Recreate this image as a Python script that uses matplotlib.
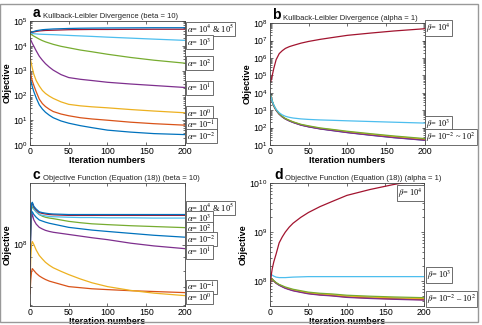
import numpy as np
import matplotlib
matplotlib.use("Agg")
import matplotlib.pyplot as plt
from matplotlib.patches import Rectangle
from matplotlib.ticker import NullFormatter, LogLocator

plt.rcParams['font.family'] = ['Liberation Sans', 'DejaVu Sans']
plt.rcParams['mathtext.fontset'] = 'stix'

its = [0, 1, 2, 3, 5, 8, 12, 16, 20, 25, 30, 40, 50, 65, 80, 100, 130, 160, 200]

# values are stored as log10(objective)
# panel a: KL divergence, beta = 10
a_m2 = [2.80, 2.62, 2.48, 2.35, 2.15, 1.90, 1.62, 1.45, 1.32, 1.20, 1.10, 0.97, 0.88, 0.78, 0.70, 0.60, 0.52, 0.46, 0.42]
a_m1 = [3.00, 2.85, 2.70, 2.58, 2.40, 2.15, 1.85, 1.67, 1.55, 1.44, 1.35, 1.25, 1.18, 1.10, 1.05, 1.00, 0.92, 0.86, 0.80]
a_0 = [3.55, 3.40, 3.25, 3.10, 2.85, 2.60, 2.38, 2.20, 2.08, 1.97, 1.88, 1.74, 1.64, 1.58, 1.54, 1.50, 1.43, 1.37, 1.30]
a_1 = [4.30, 4.24, 4.17, 4.10, 3.98, 3.80, 3.58, 3.42, 3.28, 3.14, 3.02, 2.84, 2.72, 2.65, 2.60, 2.53, 2.46, 2.40, 2.32]
a_2 = [4.50, 4.47, 4.45, 4.43, 4.39, 4.34, 4.27, 4.21, 4.16, 4.11, 4.06, 3.98, 3.92, 3.83, 3.76, 3.66, 3.53, 3.42, 3.30]
a_3 = [4.52, 4.52, 4.51, 4.50, 4.49, 4.48, 4.47, 4.465, 4.46, 4.455, 4.45, 4.435, 4.42, 4.40, 4.38, 4.35, 4.31, 4.27, 4.22]
a_4 = [4.52, 4.53, 4.54, 4.55, 4.56, 4.58, 4.60, 4.61, 4.62, 4.625, 4.63, 4.64, 4.65, 4.655, 4.66, 4.66, 4.665, 4.67, 4.67]
a_5 = [4.52, 4.54, 4.55, 4.56, 4.58, 4.61, 4.63, 4.65, 4.66, 4.67, 4.68, 4.69, 4.70, 4.71, 4.715, 4.72, 4.725, 4.73, 4.73]

# panel b: KL divergence, alpha = 1
b_m2 = [3.95, 3.80, 3.65, 3.50, 3.25, 3.00, 2.78, 2.62, 2.50, 2.39, 2.30, 2.15, 2.05, 1.93, 1.84, 1.72, 1.57, 1.43, 1.28]
b_m1 = [3.95, 3.80, 3.65, 3.50, 3.25, 3.00, 2.78, 2.62, 2.50, 2.40, 2.31, 2.16, 2.06, 1.94, 1.86, 1.74, 1.59, 1.46, 1.31]
b_0 = [3.96, 3.81, 3.66, 3.51, 3.26, 3.01, 2.79, 2.63, 2.51, 2.41, 2.32, 2.17, 2.08, 1.96, 1.88, 1.76, 1.62, 1.49, 1.34]
b_1 = [3.94, 3.79, 3.64, 3.49, 3.24, 2.99, 2.77, 2.61, 2.49, 2.38, 2.29, 2.14, 2.04, 1.92, 1.83, 1.71, 1.56, 1.42, 1.27]
b_2 = [3.97, 3.82, 3.67, 3.52, 3.27, 3.02, 2.80, 2.64, 2.52, 2.42, 2.33, 2.19, 2.10, 1.98, 1.90, 1.79, 1.65, 1.52, 1.37]
b_3 = [3.95, 3.80, 3.65, 3.52, 3.30, 3.05, 2.85, 2.73, 2.65, 2.59, 2.55, 2.50, 2.47, 2.44, 2.42, 2.39, 2.35, 2.31, 2.26]
b_4 = [4.60, 4.65, 4.80, 5.00, 5.40, 5.90, 6.25, 6.42, 6.55, 6.65, 6.72, 6.85, 6.95, 7.07, 7.17, 7.30, 7.43, 7.55, 7.68]

# panel c: objective function (18), beta = 10
c_m2 = [7.90, 8.06, 8.11, 8.120, 8.110, 8.100, 8.090, 8.086, 8.082, 8.078, 8.075, 8.069, 8.063, 8.058, 8.053, 8.048, 8.041, 8.034, 8.027]
c_m1 = [7.82, 7.87, 7.90, 7.912, 7.905, 7.895, 7.885, 7.878, 7.872, 7.866, 7.862, 7.854, 7.846, 7.842, 7.838, 7.835, 7.831, 7.828, 7.824]
c_0 = [7.85, 7.95, 8.00, 8.011, 8.000, 7.980, 7.960, 7.947, 7.935, 7.924, 7.915, 7.902, 7.890, 7.874, 7.860, 7.846, 7.832, 7.822, 7.813]
c_1 = [7.90, 8.05, 8.10, 8.110, 8.090, 8.075, 8.063, 8.057, 8.052, 8.048, 8.045, 8.041, 8.037, 8.031, 8.025, 8.018, 8.005, 7.995, 7.985]
c_2 = [7.95, 8.08, 8.13, 8.139, 8.130, 8.120, 8.110, 8.104, 8.100, 8.097, 8.095, 8.090, 8.085, 8.080, 8.076, 8.073, 8.069, 8.066, 8.062]
c_3 = [7.95, 8.10, 8.15, 8.150, 8.130, 8.120, 8.110, 8.107, 8.105, 8.103, 8.102, 8.101, 8.100, 8.099, 8.099, 8.098, 8.098, 8.097, 8.097]
c_4 = [7.95, 8.10, 8.15, 8.152, 8.137, 8.127, 8.117, 8.114, 8.112, 8.110, 8.109, 8.108, 8.107, 8.107, 8.107, 8.107, 8.107, 8.107, 8.107]
c_5 = [7.95, 8.10, 8.15, 8.155, 8.140, 8.130, 8.120, 8.117, 8.115, 8.113, 8.112, 8.111, 8.110, 8.110, 8.110, 8.110, 8.110, 8.110, 8.110]

# panel d: objective function (18), alpha = 1
d_m2 = [7.90, 8.02, 8.05, 8.04, 8.00, 7.96, 7.920, 7.890, 7.860, 7.835, 7.810, 7.780, 7.750, 7.725, 7.710, 7.680, 7.660, 7.645, 7.63]
d_m1 = [7.90, 8.02, 8.05, 8.04, 8.00, 7.96, 7.920, 7.890, 7.860, 7.834, 7.808, 7.777, 7.747, 7.720, 7.703, 7.673, 7.652, 7.635, 7.62]
d_0 = [7.90, 8.02, 8.05, 8.04, 8.00, 7.96, 7.925, 7.895, 7.867, 7.843, 7.820, 7.790, 7.760, 7.737, 7.722, 7.693, 7.673, 7.657, 7.64]
d_1 = [7.90, 8.02, 8.05, 8.04, 8.00, 7.955, 7.912, 7.880, 7.850, 7.824, 7.800, 7.768, 7.738, 7.712, 7.696, 7.665, 7.643, 7.627, 7.61]
d_2 = [7.90, 8.02, 8.05, 8.04, 8.01, 7.97, 7.930, 7.905, 7.878, 7.855, 7.832, 7.802, 7.773, 7.750, 7.737, 7.710, 7.690, 7.675, 7.66]
d_3 = [8.05, 8.15, 8.13, 8.12, 8.10, 8.08, 8.07, 8.07, 8.07, 8.075, 8.08, 8.085, 8.09, 8.09, 8.09, 8.09, 8.09, 8.09, 8.09]
d_4 = [7.80, 8.00, 8.15, 8.25, 8.39, 8.55, 8.78, 8.90, 9.00, 9.10, 9.18, 9.30, 9.40, 9.52, 9.62, 9.75, 9.87, 9.97, 10.08]

C = ['#0072BD', '#D95319', '#EDB120', '#7E2F8E', '#77AC30', '#4DBEEE', '#A2142F']

fig = plt.figure(figsize=(4.82, 3.25), dpi=100)
fig.patches.append(Rectangle((0.001, 0.008), 0.99, 0.98, transform=fig.transFigure,
                             fill=False, edgecolor='#999999', linewidth=1.0))

W = 0.3216
axa = fig.add_axes([0.0622, 0.5538, W, 0.3815])
axb = fig.add_axes([0.560, 0.5538, W, 0.375])
axc = fig.add_axes([0.0622, 0.0585, W, 0.378])
axd = fig.add_axes([0.560, 0.0585, 0.3195, 0.378])


def style(ax, letter, title, ylim, lx=0.015):
    ax.set_yscale('log')
    ax.set_xlim(0, 200)
    ax.set_ylim(*ylim)
    ax.set_xticks([0, 50, 100, 150, 200])
    ax.yaxis.set_major_locator(LogLocator(base=10, numticks=30))
    ax.yaxis.set_minor_locator(LogLocator(base=10, subs=np.arange(2, 10), numticks=30))
    ax.yaxis.set_minor_formatter(NullFormatter())
    ax.tick_params(which='both', direction='in', top=True, right=True,
                   labelsize=6.3, pad=1.5, width=0.5, color='#333333')
    ax.tick_params(which='major', length=2.5)
    ax.tick_params(which='minor', length=1.3)
    for s in ax.spines.values():
        s.set_linewidth(0.6)
        s.set_color('#444444')
    ax.set_xlabel('Iteration numbers', fontsize=6.5, fontweight='bold', labelpad=0)
    ax.set_ylabel('Objective', fontsize=6.5, fontweight='bold', labelpad=1)
    ax.text(lx, 1.008, letter, transform=ax.transAxes, fontsize=10,
            fontweight='bold', va='bottom', ha='left')
    ax.text(lx + 0.07, 1.012, title, transform=ax.transAxes, fontsize=5.5,
            va='bottom', ha='left', color='#222222')


def tag(ax, x, ylog, s):
    ax.text(x, 10 ** ylog, s, transform=ax.get_yaxis_transform(),
            fontsize=6.0, family=['Liberation Serif', 'DejaVu Serif'],
            va='center', ha='left', clip_on=False,
            bbox=dict(boxstyle='square,pad=0.12', fc='white', ec='#555555', lw=0.6))


def draw(ax, series, colors):
    for v, c in zip(series, colors):
        ax.plot(its, 10 ** np.array(v), color=c, lw=0.9)


# panel a
draw(axa, [a_m2, a_m1, a_0, a_1, a_2, a_3, a_4, a_5], C + [C[0]])
style(axa, 'a', 'Kullback-Leibler Divergence (beta = 10)', (1, 1e5))
for y, s in zip([4.68, 4.15, 3.31, 2.30, 1.29, 0.81, 0.36],
                [r'$\alpha$= 10$^{4}$ & 10$^{5}$', r'$\alpha$= 10$^{3}$', r'$\alpha$= 10$^{2}$',
                 r'$\alpha$= 10$^{1}$', r'$\alpha$= 10$^{0}$', r'$\alpha$= 10$^{-1}$',
                 r'$\alpha$= 10$^{-2}$']):
    tag(axa, 1.015, y, s)

# panel b
draw(axb, [b_m2, b_m1, b_0, b_1, b_2, b_3, b_4], C)
style(axb, 'b', 'Kullback-Leibler Divergence (alpha = 1)', (10, 1e8))
for y, s in zip([7.71, 2.2, 1.45],
                [r'$\beta$= 10$^{4}$', r'$\beta$= 10$^{3}$', r'$\beta$= 10$^{-2}$ ~ 10$^{2}$']):
    tag(axb, 1.01, y, s)

# panel c
draw(axc, [c_m2, c_m1, c_0, c_1, c_2, c_3, c_4, c_5], C + [C[0]])
style(axc, 'c', 'Objective Function (Equation (18)) (beta = 10)', (10 ** 7.775, 10 ** 8.225))
for y, s in zip([8.135, 8.097, 8.059, 8.021, 7.972, 7.845, 7.805],
                [r'$\alpha$= 10$^{4}$ & 10$^{5}$', r'$\alpha$= 10$^{3}$', r'$\alpha$= 10$^{2}$',
                 r'$\alpha$= 10$^{-2}$', r'$\alpha$= 10$^{1}$', r'$\alpha$= 10$^{-1}$',
                 r'$\alpha$= 10$^{0}$']):
    tag(axc, 1.015, y, s)

# panel d
draw(axd, [d_m2, d_m1, d_0, d_1, d_2, d_3, d_4], C)
style(axd, 'd', 'Objective Function (Equation (18)) (alpha = 1)', (10 ** 7.49, 1e10), lx=0.03)
tag(axd, 0.83, 9.8, r'$\beta$= 10$^{4}$')
tag(axd, 1.02, 8.12, r'$\beta$= 10$^{3}$')
tag(axd, 1.02, 7.63, r'$\beta$= 10$^{-2}$ – 10$^{2}$')

fig.savefig('out.png', dpi=100)
